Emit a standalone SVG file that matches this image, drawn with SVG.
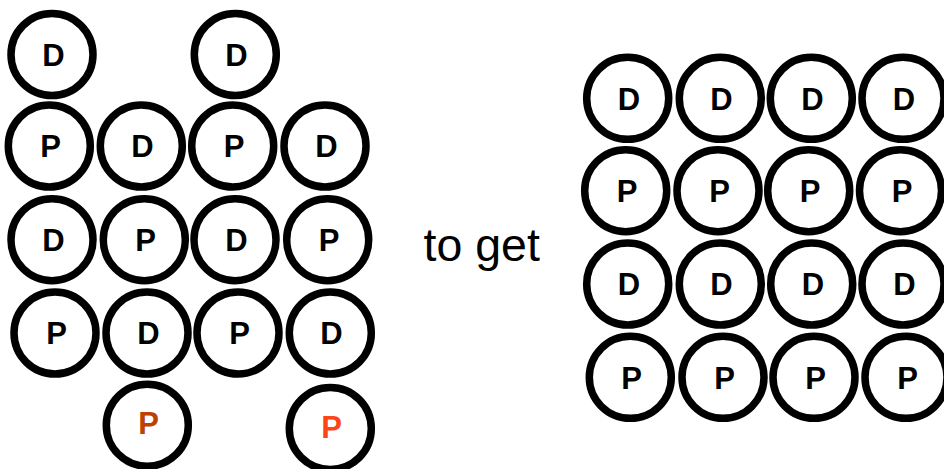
<svg xmlns="http://www.w3.org/2000/svg" width="944" height="469" viewBox="0 0 944 469">
  <style>
    .ring { fill: #ffffff; stroke: #000000; stroke-width: 7.5; }
    .lbl { font-family: "Liberation Sans", Arial, sans-serif; font-weight: bold; font-size: 31px; text-anchor: middle; fill: #000000; }
    .caption { font-family: "Liberation Sans", Arial, sans-serif; font-size: 46.5px; fill: #000000; }
  </style>
  <rect width="944" height="469" fill="#ffffff"/>

  <!-- Starting arrangement -->
  <g id="left-r1c1"><circle class="ring" cx="52" cy="54.5" r="41"/><text class="lbl" x="53.5" y="65.5">D</text></g>
  <g id="left-r1c3"><circle class="ring" cx="235.3" cy="54.5" r="41"/><text class="lbl" x="236.5" y="65.5">D</text></g>

  <g id="left-r2c1"><circle class="ring" cx="49.3" cy="146" r="41"/><text class="lbl" x="50.5" y="157.3">P</text></g>
  <g id="left-r2c2"><circle class="ring" cx="141.3" cy="146" r="41"/><text class="lbl" x="142.5" y="157.3">D</text></g>
  <g id="left-r2c3"><circle class="ring" cx="232.7" cy="146" r="41"/><text class="lbl" x="234" y="157.3">P</text></g>
  <g id="left-r2c4"><circle class="ring" cx="325" cy="146" r="41"/><text class="lbl" x="326.5" y="157.3">D</text></g>

  <g id="left-r3c1"><circle class="ring" cx="52" cy="239.7" r="41"/><text class="lbl" x="53.5" y="251">D</text></g>
  <g id="left-r3c2"><circle class="ring" cx="144.3" cy="239.7" r="41"/><text class="lbl" x="145.5" y="251">P</text></g>
  <g id="left-r3c3"><circle class="ring" cx="235" cy="239.7" r="41"/><text class="lbl" x="236.5" y="251">D</text></g>
  <g id="left-r3c4"><circle class="ring" cx="327.7" cy="239.7" r="41"/><text class="lbl" x="329" y="251">P</text></g>

  <g id="left-r4c1"><circle class="ring" cx="55" cy="333" r="41"/><text class="lbl" x="56.5" y="344.3">P</text></g>
  <g id="left-r4c2"><circle class="ring" cx="147" cy="333" r="41"/><text class="lbl" x="148.5" y="344.3">D</text></g>
  <g id="left-r4c3"><circle class="ring" cx="238" cy="333" r="41"/><text class="lbl" x="239.5" y="344.3">P</text></g>
  <g id="left-r4c4"><circle class="ring" cx="330.3" cy="333" r="41"/><text class="lbl" x="331.5" y="344.3">D</text></g>

  <g id="left-r5c2"><circle class="ring" cx="147.3" cy="425.2" r="41"/><text class="lbl" x="148.5" y="433.8" style="fill:#bb4200">P</text></g>
  <g id="left-r5c4"><circle class="ring" cx="330.3" cy="428.5" r="41"/><text class="lbl" x="331.5" y="438.2" style="fill:#ff4418">P</text></g>

  <text class="caption" x="423.5" y="260.5">to get</text>

  <!-- Resulting arrangement -->
  <g id="right-r1c1"><circle class="ring" cx="627.7" cy="98.3" r="41"/><text class="lbl" x="629" y="109.5">D</text></g>
  <g id="right-r1c2"><circle class="ring" cx="720.3" cy="98.3" r="41"/><text class="lbl" x="721.5" y="109.5">D</text></g>
  <g id="right-r1c3"><circle class="ring" cx="811.3" cy="98.3" r="41"/><text class="lbl" x="812.5" y="109.5">D</text></g>
  <g id="right-r1c4"><circle class="ring" cx="903" cy="98.3" r="41"/><text class="lbl" x="904" y="109.5">D</text></g>

  <g id="right-r2c1"><circle class="ring" cx="625.7" cy="190.7" r="41"/><text class="lbl" x="627" y="202">P</text></g>
  <g id="right-r2c2"><circle class="ring" cx="718" cy="190.7" r="41"/><text class="lbl" x="719.5" y="202">P</text></g>
  <g id="right-r2c3"><circle class="ring" cx="808.7" cy="190.7" r="41"/><text class="lbl" x="810" y="202">P</text></g>
  <g id="right-r2c4"><circle class="ring" cx="900.5" cy="190.7" r="41"/><text class="lbl" x="902" y="202">P</text></g>

  <g id="right-r3c1"><circle class="ring" cx="627.7" cy="284" r="41"/><text class="lbl" x="629" y="295.3">D</text></g>
  <g id="right-r3c2"><circle class="ring" cx="720.3" cy="284" r="41"/><text class="lbl" x="721.5" y="295.3">D</text></g>
  <g id="right-r3c3"><circle class="ring" cx="811.7" cy="284" r="41"/><text class="lbl" x="813" y="295.3">D</text></g>
  <g id="right-r3c4"><circle class="ring" cx="903" cy="284" r="41"/><text class="lbl" x="904.5" y="295.3">D</text></g>

  <g id="right-r4c1"><circle class="ring" cx="630.3" cy="377.3" r="41"/><text class="lbl" x="631.5" y="388.5">P</text></g>
  <g id="right-r4c2"><circle class="ring" cx="723" cy="377.3" r="41"/><text class="lbl" x="724.5" y="388.5">P</text></g>
  <g id="right-r4c3"><circle class="ring" cx="814" cy="377.3" r="41"/><text class="lbl" x="815.5" y="388.5">P</text></g>
  <g id="right-r4c4"><circle class="ring" cx="906" cy="377.3" r="41"/><text class="lbl" x="907.5" y="388.5">P</text></g>

  <!-- No connectors in this figure -->
  <g id="connectors"></g>
</svg>
